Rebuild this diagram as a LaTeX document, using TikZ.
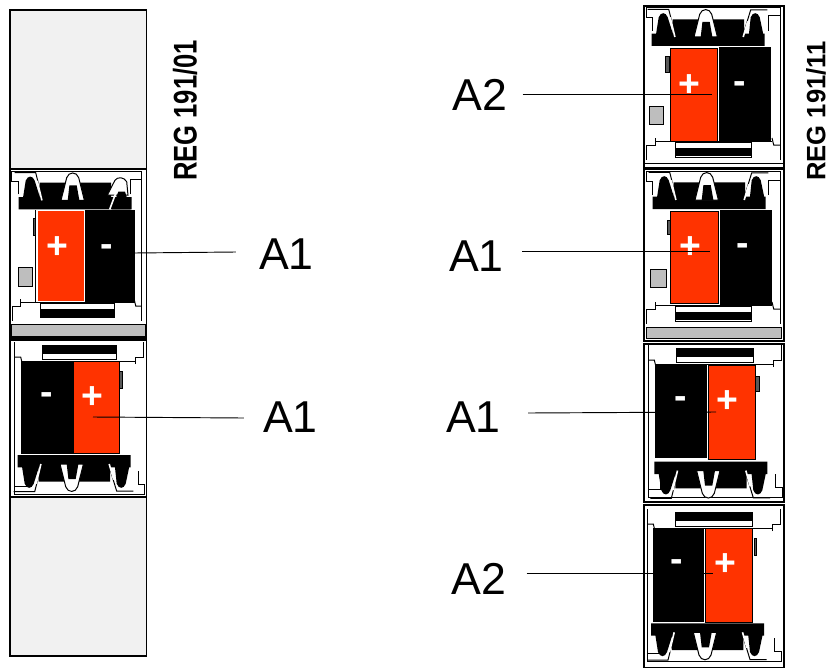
\documentclass[tikz,border=0pt]{standalone}
\usepackage{fontspec}
\setmainfont{Liberation Sans}
\definecolor{regred}{HTML}{FF3300}
\definecolor{panelgray}{HTML}{F1F1F1}
\definecolor{bargray}{HTML}{BEBEBE}
\tikzset{
  frameline/.style={draw=black,line width=0.85pt},
  thinline/.style={draw=black,line width=0.75pt},
  leader/.style={draw=black,line width=0.7pt},
  redface/.style={fill=regred,draw=black,line width=0.6pt},
  blackface/.style={fill=black},
  tabface/.style={fill=black!65,draw=black,line width=0.6pt},
  grayface/.style={fill=bargray,draw=black,line width=0.75pt},
  callout/.style={font=\fontsize{33.5pt}{36pt}\selectfont,inner sep=0pt,text=black},
  partno/.style={inner sep=0pt,rotate=90,text=black},
  plusmark/.style={font=\bfseries\fontsize{28pt}{30pt}\selectfont,inner sep=0pt,text=white,anchor=base},
  termhouse/.pic={
    \draw[thinline] (8.7,26) -- (8.7,12.7) -- (2,12.7) -- (2,2.7) -- (136,2.7) -- (136,155);
    \draw[thinline] (124,26) -- (124,11) -- (136,11);
    \draw[thinline] (11,136) -- (128,136);
    \draw[thinline] (11,133) -- (11,140) -- (2.7,140) -- (2.7,155);
    \draw[thinline] (128,133) -- (129.7,140) -- (136,140);
    \draw[thinline,fill=white] (31,137.7) rectangle (107.7,152);
    \fill[black] (31.5,142.7) rectangle (107,151);
  },
  termclip/.pic={
    % black block
    \fill[black] (-54,36.7) -- (-54,24.3) -- (-33,24.3) -- (-33,10) -- (38.3,10) -- (38.3,24.3) -- (59,24.3) -- (59,36.7) -- cycle;
    % left clip
    \fill[black] (-50,27) -- (-47,8) .. controls (-45,2.5) and (-40,2.5) .. (-38,8) -- (-32,27) -- cycle;
    \draw[thinline] (-58,0) -- (-37,0) -- (-30,27.7);
    \draw[white,line width=1.2pt] (-35.5,8) -- (-30.8,27.7);
    % middle clip
    \draw[thinline,fill=white] (-11.7,27.7) -- (-6,5) .. controls (-4,-1.3) and (4,-1.3) .. (6,5) -- (11.7,27.7) -- cycle;
    \fill[black] (-5,27.7) -- (-3.3,12.7) -- (4,12.7) -- (6.7,27.7) -- cycle;
  },
  termright/.pic={
    \fill[black] (43,27) -- (45,8) .. controls (47,2.5) and (52,2.5) .. (54,8) -- (58,27) -- cycle;
    \draw[thinline] (36.7,27.7) -- (45,0.5) -- (61.7,0.5);
    \draw[white,line width=1.2pt] (37.5,27.7) -- (42,12);
  },
  termarch/.pic={
    \draw[thinline,fill=white] (34.6,22.5) -- (42.3,7.5) .. controls (45,4) and (51,4) .. (54,9) -- (55.3,22.5) -- cycle;
    \fill[black] (39,36.7) -- (45.6,19) -- (52.3,19) -- (58,36.7) -- cycle;
    \draw[white,line width=1.2pt] (37,36.7) -- (44,18);
  }
}
\begin{document}
\begin{tikzpicture}[x=0.75pt,y=-0.75pt]
\useasboundingbox (0,0) rectangle (827,667);
% left column: blank panels and frames
\draw[frameline,fill=panelgray] (10,10) rectangle (146.5,169);
\draw[frameline,fill=panelgray] (10,497) rectangle (146.5,656);
\draw[frameline] (10,169) rectangle (146.5,338);
\draw[frameline] (10,340) rectangle (146.5,497);
% left upper module
\pic[xscale=0.97,yscale=0.98] at (10,169) {termhouse};
\pic at (72.7,172.7) {termclip};
\pic at (72.7,172.7) {termarch};
\draw[thinline] (35.7,210) -- (35.7,302);
\draw[tabface] (33.3,218) rectangle (35.7,235);
\draw[grayface] (18.3,267.7) rectangle (32.3,286);
\draw[grayface] (11.7,324.3) rectangle (145,336);
\fill[white] (37,210) rectangle (85,302);
\fill[regred] (38.3,211) rectangle (84.3,301);
\draw[blackface] (85.5,210) rectangle (134,302);
% left lower module
\pic[xscale=-0.97,yscale=-1] at (146.5,497) {termhouse};
\pic[yscale=-1] at (71.7,491.7) {termclip};
\pic[yscale=-1] at (71.7,491.7) {termright};
\draw[tabface] (119.3,371.7) rectangle (122,388.3);
\draw[blackface] (21.7,361.7) rectangle (72,453);
\draw[redface] (73.3,361.7) rectangle (119.3,453);
% right column: frames
\draw[frameline] (644,6) rectangle (784,168);
\draw[frameline] (644,169) rectangle (784,341);
\draw[frameline] (644,344) rectangle (784,502);
\draw[frameline] (644,505) rectangle (784,668);
% right module 1
\pic at (644,5) {termhouse};
\pic at (705.7,9.3) {termclip};
\pic at (705.7,9.3) {termright};
\draw[thinline] (644,163) -- (784,163);
\draw[tabface] (665.7,56.7) rectangle (669.7,72.7);
\draw[grayface] (649,106.7) rectangle (663.3,124);
\draw[redface] (670,48) rectangle (717.7,141.7);
\draw[blackface] (719.3,47.7) rectangle (770,141.7);
% right module 2
\pic at (644,169) {termhouse};
\pic at (706.7,172.3) {termclip};
\pic at (706.7,172.3) {termright};
\draw[tabface] (667,220) rectangle (670.3,234.3);
\draw[grayface] (650,269) rectangle (666,287);
\draw[grayface] (646,327.3) rectangle (781.7,338.3);
\draw[redface] (670.7,211) rectangle (718.7,303.7);
\draw[blackface] (720,210) rectangle (771,304);
% right module 3
\pic[xscale=-1,yscale=-1] at (784,500) {termhouse};
\pic[yscale=-1] at (708.3,498.3) {termclip};
\pic[yscale=-1] at (708.3,498.3) {termright};
\draw[tabface] (755.7,376.7) rectangle (759,391.7);
\draw[blackface] (655.7,365.7) rectangle (706,457.7);
\draw[redface] (708.7,365.7) rectangle (755,459);
% right module 4
\pic[xscale=-1,yscale=-1] at (783,664) {termhouse};
\pic[yscale=-1] at (705,660) {termclip};
\pic[yscale=-1] at (705,660) {termright};
\draw[tabface] (754,538.3) rectangle (756.7,555);
\draw[blackface] (653.3,528.3) rectangle (703.3,621.7);
\draw[redface] (705.7,528.3) rectangle (752.7,622.3);
% polarity marks
\node[plusmark] (pa) at (57.7,258.7) {+};
\node[plusmark] (ma) at (106.7,256.3) {-};
\node[plusmark] (pb) at (92.3,408.7) {+};
\node[plusmark] (mb) at (46.7,404.3) {-};
\node[plusmark] (pc) at (689.3,96) {+};
\node[plusmark] (mc) at (739.7,93.3) {-};
\node[plusmark] (pd) at (690,258) {+};
\node[plusmark] (md) at (742.3,255.3) {-};
\node[plusmark] (pe) at (727.3,412.3) {+};
\node[plusmark] (me) at (680.3,408.3) {-};
\node[plusmark] (pf) at (725.7,575.3) {+};
\node[plusmark] (mf) at (677,571.3) {-};
% part numbers
\node[partno] (rega) at (185,110.5) {\scalebox{0.78}[1]{\bfseries\fontsize{24.6pt}{26pt}\selectfont REG 191/01}};
\node[partno] (regb) at (816,111) {\scalebox{0.78}[0.81]{\bfseries\fontsize{24.6pt}{26pt}\selectfont REG 191/11}};
% callouts
\node[callout] (aa) at (286.5,254) {A1};
\node[callout] (ab) at (290.5,417) {A1};
\node[callout] (ac) at (480,95) {A2};
\node[callout] (ad) at (476.5,256) {A1};
\node[callout] (ae) at (473.5,417) {A1};
\node[callout] (af) at (479,579) {A2};
\coordinate (ea) at (134,253);
\coordinate (eb) at (93,417);
\coordinate (ec) at (712,94);
\coordinate (ed) at (710,251);
\coordinate (ee) at (716,412);
\coordinate (ef) at (713,573);
\draw[leader] ([shift={(-23,-2)}]aa.west) -- (ea);
\draw[leader] ([shift={(-19,1)}]ab.west) -- (eb);
\draw[leader] ([shift={(15,-1)}]ac.east) -- (ec);
\draw[leader] ([shift={(18,-5)}]ad.east) -- (ed);
\draw[leader] ([shift={(27,-4)}]ae.east) -- (ee);
\draw[leader] ([shift={(20,-6)}]af.east) -- (ef);
\end{tikzpicture}
\end{document}
